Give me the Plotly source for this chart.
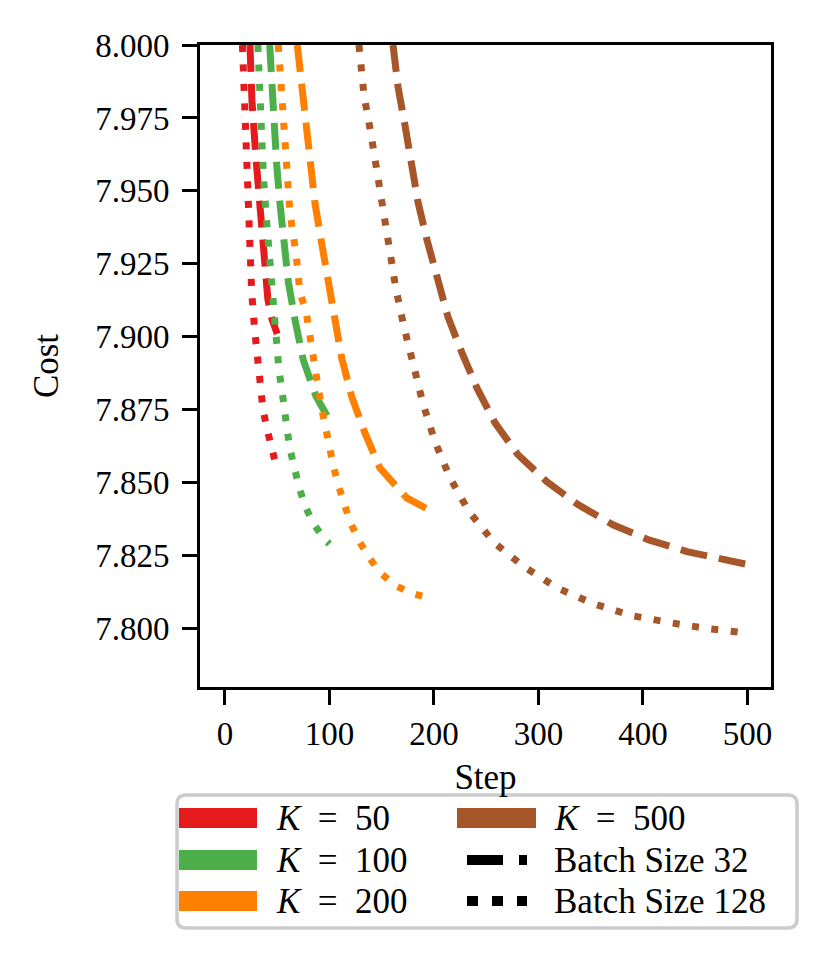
import plotly.graph_objects as go

# ---------------- data ----------------
steps_k50_b32 = [23.9, 25.8, 29.7, 33.5, 38.3, 41.0, 45.0, 50.0]
cost_k50_b32 = [8.000, 7.981, 7.961, 7.9435, 7.926, 7.913, 7.906, 7.901]

steps_k50_b128 = [16.7, 19.8, 22.3, 25.6, 28.5, 30.6, 32.5, 34.4, 36.4, 40.2, 44.0, 48.8, 50.0]
cost_k50_b128 = [8.000, 7.969, 7.943, 7.915, 7.902, 7.895, 7.888, 7.882, 7.875, 7.8685, 7.862, 7.856, 7.855]

steps_k100_b32 = [42.8, 44.7, 46.9, 49.5, 52.6, 57.4, 60.6, 67.0, 74.9, 87.1, 98.9, 100.0]
cost_k100_b32 = [8.000, 7.9857, 7.9726, 7.9589, 7.9458, 7.9321, 7.9189, 7.9058, 7.8921, 7.8796, 7.8719, 7.8715]

steps_k100_b128 = [31.5, 34.4, 36.7, 39.2, 42.1, 44.7, 47.8, 49.8, 51.7, 54.5, 56.5, 59.3,
                   62.2, 66.0, 70.8, 76.6, 84.2, 94.7, 100.0]
cost_k100_b128 = [8.000, 7.9686, 7.9555, 7.9424, 7.9287, 7.915, 7.9018, 7.8952, 7.8884, 7.8818, 7.875, 7.8685,
                  7.8616, 7.8551, 7.8486, 7.8421, 7.8363, 7.8308, 7.829]

steps_k200_b32 = [69.2, 73.4, 77.5, 81.3, 86.1, 92.5, 98.9, 105.3, 111.7, 121.2, 134.0, 148.3, 173.9, 197.8, 200.0]
cost_k200_b32 = [8.000, 7.9857, 7.9726, 7.9589, 7.9458, 7.9321, 7.9189, 7.9058, 7.8927, 7.8796, 7.867, 7.855,
                 7.8448, 7.8402, 7.840]

steps_k200_b128 = [51.0, 54.3, 56.5, 59.6, 62.2, 67.9, 71.8, 77.5, 80.1, 83.3, 86.1, 89.3, 92.5, 96.0, 99.8,
                   103.6, 108.4, 113.2, 119.6, 127.6, 137.1, 148.3, 162.7, 179.6, 196.2, 200.0]
cost_k200_b128 = [8.000, 7.9823, 7.9686, 7.9555, 7.9424, 7.9287, 7.915, 7.9089, 7.9022, 7.8955, 7.889, 7.8824,
                  7.8756, 7.8691, 7.8624, 7.8559, 7.8493, 7.843, 7.8367, 7.8305, 7.8248, 7.8193, 7.8148,
                  7.812, 7.8103, 7.810]

steps_k500_b32 = [160.8, 165.6, 172.2, 178.0, 184.7, 193.3, 202.9, 213.4, 226.8, 241.1, 258.4, 280.4, 308.1,
                  337.8, 371.3, 404.8, 442.1, 478.5, 500.0]
cost_k500_b32 = [8.000, 7.9856, 7.9726, 7.9596, 7.9462, 7.9332, 7.9202, 7.9068, 7.8945, 7.8825, 7.8705,
                 7.8596, 7.8503, 7.8425, 7.8356, 7.8305, 7.8264, 7.8236, 7.822]

steps_k500_b128 = [128.2, 133.0, 139.7, 145.5, 151.2, 156.9, 163.6, 171.3, 179.9, 189.5, 201.0, 215.3, 233.5,
                   257.4, 286.1, 317.7, 352.2, 388.5, 424.9, 462.2, 500.0]
cost_k500_b128 = [8.000, 7.9829, 7.9695, 7.9562, 7.9428, 7.9295, 7.9164, 7.9034, 7.8901, 7.8771, 7.864,
                  7.8517, 7.8401, 7.8295, 7.8212, 7.814, 7.8086, 7.8045, 7.8021, 7.800, 7.7985]

k_labels = ["50", "100", "200", "500"]
k_colors = ["#e41a1c", "#4daf4a", "#ff7f00", "#a65628"]
batch_labels = ["Batch Size 32", "Batch Size 128"]

y_ticks = [7.800, 7.825, 7.850, 7.875, 7.900, 7.925, 7.950, 7.975, 8.000]
x_ticks = [0, 100, 200, 300, 400, 500]

series = [
    (steps_k50_b32, cost_k50_b32, 0, 0),
    (steps_k50_b128, cost_k50_b128, 0, 1),
    (steps_k100_b32, cost_k100_b32, 1, 0),
    (steps_k100_b128, cost_k100_b128, 1, 1),
    (steps_k200_b32, cost_k200_b32, 2, 0),
    (steps_k200_b128, cost_k200_b128, 2, 1),
    (steps_k500_b32, cost_k500_b32, 3, 0),
    (steps_k500_b128, cost_k500_b128, 3, 1),
]

# ---------------- styling ----------------
FONT = "Liberation Serif, Times New Roman, serif"
FS = 33       # tick labels
FS_TXT = 35   # axis titles and legend text
LW = 7
DASHES = ["27px,12px", "7px,12.5px"]

W, H = 831, 964
L, R, T, B = 200, 60, 45, 277

fig = go.Figure()
for xs, ys, ki, bi in series:
    fig.add_trace(go.Scatter(
        x=xs, y=ys, mode="lines",
        line=dict(color=k_colors[ki], width=LW, dash=DASHES[bi]),
        showlegend=False, hoverinfo="skip",
        name=f"K = {k_labels[ki]}, {batch_labels[bi]}",
    ))

axis_common = dict(
    showline=True, linecolor="black", linewidth=3, mirror=True,
    ticks="outside", ticklen=15, tickwidth=3, tickcolor="black",
    showgrid=False, zeroline=False,
    tickfont=dict(family=FONT, size=FS, color="black"),
)

fig.update_xaxes(
    range=[-23.9, 522.5], tickvals=x_ticks, ticktext=[str(v) for v in x_ticks],
    ticklabelstandoff=0,
    title=dict(text="Step", font=dict(family=FONT, size=FS_TXT, color="black"), standoff=14),
    **axis_common,
)
fig.update_yaxes(
    range=[7.78, 8.0], tickvals=y_ticks, ticktext=[f"{v:.3f}" for v in y_ticks],
    ticklabelstandoff=6,
    title=dict(text="Cost", font=dict(family=FONT, size=FS_TXT, color="black"), standoff=26),
    **axis_common,
)

# ---------------- manual legend (pixel layout -> paper coords) ----------------
PW, PH = W - L - R, H - T - B


def px(xp):
    return (xp - L) / PW


def py(yp):
    return (H - B - yp) / PH


shapes = []
bx0, bx1, by0, by1, rr = 177, 797, 795, 928, 9
rx, ry = rr / PW, rr / PH
path = (
    f"M {px(bx0)+rx},{py(by0)} L {px(bx1)-rx},{py(by0)} Q {px(bx1)},{py(by0)} {px(bx1)},{py(by0)-ry} "
    f"L {px(bx1)},{py(by1)+ry} Q {px(bx1)},{py(by1)} {px(bx1)-rx},{py(by1)} "
    f"L {px(bx0)+rx},{py(by1)} Q {px(bx0)},{py(by1)} {px(bx0)},{py(by1)+ry} "
    f"L {px(bx0)},{py(by0)-ry} Q {px(bx0)},{py(by0)} {px(bx0)+rx},{py(by0)} Z"
)
shapes.append(dict(type="path", xref="paper", yref="paper", path=path,
                   fillcolor="white", line=dict(color="#cccccc", width=3.5), layer="above"))

row_y = [818, 860, 901]
col_patch = [(179, 257), (457, 536)]
col_text = [274, 552]

annotations = []
entries = [(0, 0, "k", 0), (0, 1, "k", 1), (0, 2, "k", 2), (1, 0, "k", 3), (1, 1, "b", 0), (1, 2, "b", 1)]
for col, row, kind, idx in entries:
    yc = row_y[row]
    x0, x1 = col_patch[col]
    if kind == "k":
        shapes.append(dict(type="rect", xref="paper", yref="paper",
                           x0=px(x0), x1=px(x1), y0=py(yc - 10), y1=py(yc + 10),
                           fillcolor=k_colors[idx], line=dict(width=0), layer="above"))
        text = f"<i>K</i>\u2002=\u2002{k_labels[idx]}"
    else:
        dash = ["36px,16px", "11px,14px"][idx]
        shapes.append(dict(type="line", xref="paper", yref="paper",
                           x0=px(467), x1=px(527), y0=py(yc), y1=py(yc),
                           line=dict(color="black", width=10, dash=dash), layer="above"))
        text = batch_labels[idx]
    annotations.append(dict(xref="paper", yref="paper", x=px(col_text[col]), y=py(yc),
                            xanchor="left", yanchor="middle", showarrow=False, text=text,
                            font=dict(family=FONT, size=FS_TXT, color="black")))

fig.update_layout(
    width=W, height=H,
    margin=dict(l=L, r=R, t=T, b=B, autoexpand=False),
    paper_bgcolor="white", plot_bgcolor="white",
    font=dict(family=FONT, size=FS, color="black"),
    shapes=shapes, annotations=annotations,
    showlegend=False,
)

fig.write_html("out.html", config={"displayModeBar": False},
               post_script="document.body.style.margin='0';document.body.style.padding='0';")
